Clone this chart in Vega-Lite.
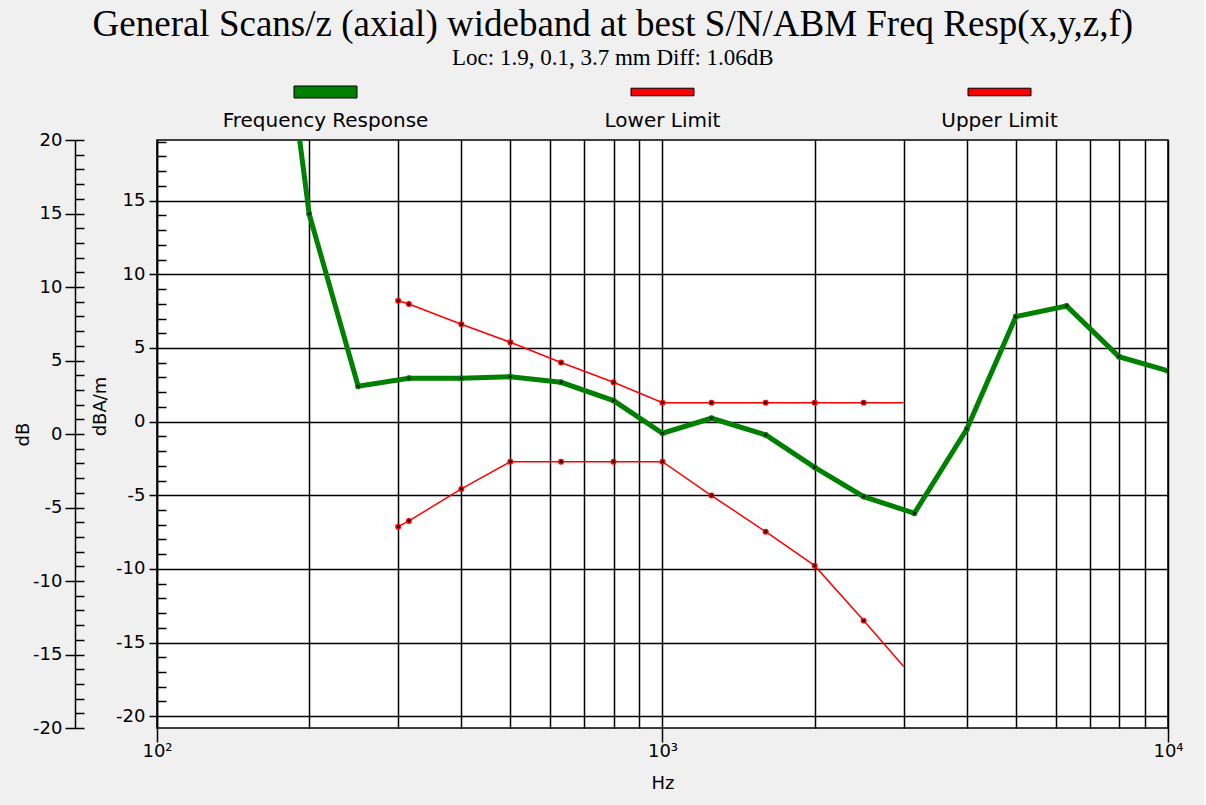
{
  "$schema": "https://vega.github.io/schema/vega-lite/v6.json",
  "background": "#f0f0f0",
  "padding": {"left": 13, "top": 6, "right": 20, "bottom": 14},
  "bounds": "flush",
  "spacing": 28,
  "title": {
    "text": "General Scans/z (axial) wideband at best S/N/ABM Freq Resp(x,y,z,f)",
    "subtitle": "Loc: 1.9, 0.1, 3.7 mm Diff: 1.06dB",
    "font": "Liberation Serif",
    "fontSize": 37,
    "fontWeight": "normal",
    "color": "black",
    "subtitleFont": "Liberation Serif",
    "subtitleFontSize": 23,
    "subtitleColor": "black",
    "subtitlePadding": 3,
    "anchor": "middle",
    "dx": 14,
    "offset": 1
  },
  "datasets": {
    "curves": [
      {"series": "Frequency Response", "f": 160, "v": 40},
      {"series": "Frequency Response", "f": 200, "v": 14.1},
      {"series": "Frequency Response", "f": 250, "v": 2.4},
      {"series": "Frequency Response", "f": 315, "v": 2.95},
      {"series": "Frequency Response", "f": 400, "v": 2.95},
      {"series": "Frequency Response", "f": 500, "v": 3.05},
      {"series": "Frequency Response", "f": 630, "v": 2.67},
      {"series": "Frequency Response", "f": 800, "v": 1.43},
      {"series": "Frequency Response", "f": 1000, "v": -0.79},
      {"series": "Frequency Response", "f": 1250, "v": 0.23},
      {"series": "Frequency Response", "f": 1600, "v": -0.9},
      {"series": "Frequency Response", "f": 2000, "v": -3.1},
      {"series": "Frequency Response", "f": 2500, "v": -5.09},
      {"series": "Frequency Response", "f": 3150, "v": -6.22},
      {"series": "Frequency Response", "f": 4000, "v": -0.5},
      {"series": "Frequency Response", "f": 5000, "v": 7.13},
      {"series": "Frequency Response", "f": 6300, "v": 7.85},
      {"series": "Frequency Response", "f": 8000, "v": 4.41},
      {"series": "Frequency Response", "f": 10000, "v": 3.44},
      {"series": "Upper Limit", "f": 300, "v": 8.21},
      {"series": "Upper Limit", "f": 315, "v": 7.99},
      {"series": "Upper Limit", "f": 400, "v": 6.61},
      {"series": "Upper Limit", "f": 500, "v": 5.39},
      {"series": "Upper Limit", "f": 630, "v": 4.01},
      {"series": "Upper Limit", "f": 800, "v": 2.67},
      {"series": "Upper Limit", "f": 1000, "v": 1.29},
      {"series": "Upper Limit", "f": 1250, "v": 1.29},
      {"series": "Upper Limit", "f": 1600, "v": 1.29},
      {"series": "Upper Limit", "f": 2000, "v": 1.29},
      {"series": "Upper Limit", "f": 2500, "v": 1.29},
      {"series": "Upper Limit", "f": 3000, "v": 1.29},
      {"series": "Lower Limit", "f": 300, "v": -7.13},
      {"series": "Lower Limit", "f": 315, "v": -6.74},
      {"series": "Lower Limit", "f": 400, "v": -4.57},
      {"series": "Lower Limit", "f": 500, "v": -2.72},
      {"series": "Lower Limit", "f": 630, "v": -2.72},
      {"series": "Lower Limit", "f": 800, "v": -2.72},
      {"series": "Lower Limit", "f": 1000, "v": -2.72},
      {"series": "Lower Limit", "f": 1250, "v": -5.02},
      {"series": "Lower Limit", "f": 1600, "v": -7.47},
      {"series": "Lower Limit", "f": 2000, "v": -9.78},
      {"series": "Lower Limit", "f": 2500, "v": -13.51},
      {"series": "Lower Limit", "f": 3000, "v": -16.63}
    ],
    "legend": [
      {"series": "Frequency Response"},
      {"series": "Lower Limit"},
      {"series": "Upper Limit"}
    ]
  },
  "vconcat": [
    {
      "width": 1011,
      "height": 40,
      "view": {"stroke": null, "fill": null},
      "data": {"name": "legend"},
      "encoding": {
        "x": {"field": "series", "type": "nominal", "scale": {"type": "point", "padding": 0.5, "domain": ["Frequency Response", "Lower Limit", "Upper Limit"]}, "axis": null}
      },
      "layer": [
        {
          "mark": {"type": "point", "filled": true, "size": 3969, "stroke": "black", "strokeWidth": 1, "opacity": 1},
          "encoding": {
            "fill": {"field": "series", "type": "nominal", "scale": {"domain": ["Frequency Response", "Lower Limit", "Upper Limit"], "range": ["#008000", "#ff0000", "#ff0000"]}, "legend": null},
            "shape": {"field": "series", "type": "nominal", "scale": {"domain": ["Frequency Response", "Lower Limit", "Upper Limit"], "range": ["M-1,-0.19H1V0.19H-1Z", "M-1,-0.12H1V0.12H-1Z", "M-1,-0.12H1V0.12H-1Z"]}, "legend": null}
          }
        },
        {
          "mark": {"type": "text", "dy": 29, "font": "DejaVu Sans", "fontSize": 20, "color": "black", "baseline": "middle"},
          "encoding": {"text": {"field": "series"}}
        }
      ]
    },
    {
      "width": 1011,
      "height": 588,
      "data": {"name": "curves"},
      "layer": [
        {
          "mark": {"type": "line", "clip": true},
          "encoding": {
            "x": {"field": "f", "type": "quantitative", "scale": {"type": "log", "domain": [100, 10000], "nice": false},
              "axis": {"orient": "bottom", "values": [100, 200, 300, 400, 500, 600, 700, 800, 900, 1000, 2000, 3000, 4000, 5000, 6000, 7000, 8000, 9000, 10000], "grid": true, "ticks": false, "labels": false, "domain": false, "title": null}},
            "y": {"field": "v", "type": "quantitative", "scale": {"domain": [-20.8, 19.12], "nice": false, "zero": false},
              "axis": {"orient": "left", "values": [-20, -15, -10, -5, 0, 5, 10, 15], "grid": true, "tickSize": 8, "labelPadding": 4, "labelExpr": "datum.value < 0 ? '-' + abs(datum.value) : '' + datum.value", "title": "dBA/m", "titleX": -48, "titleY": 266, "domain": true}},
            "color": {"field": "series", "type": "nominal", "scale": {"domain": ["Frequency Response", "Lower Limit", "Upper Limit"], "range": ["#008000", "#ff0000", "#ff0000"]}, "legend": null},
            "strokeWidth": {"field": "series", "type": "nominal", "scale": {"type": "ordinal", "domain": ["Frequency Response", "Lower Limit", "Upper Limit"], "range": [5, 1.5, 1.5]}, "legend": null}
          }
        },
        {
          "transform": [{"filter": "datum.f != 3000 && datum.v < 19"}],
          "mark": {"type": "point", "filled": true, "clip": true, "size": 20, "strokeWidth": 1.5, "opacity": 1, "fill": "black"},
          "encoding": {
            "x": {"field": "f", "type": "quantitative", "axis": null},
            "y": {"field": "v", "type": "quantitative", "scale": {"domain": [-20.8, 19.12], "nice": false, "zero": false}, "axis": null},
            "stroke": {"field": "series", "type": "nominal", "scale": {"domain": ["Frequency Response", "Lower Limit", "Upper Limit"], "range": ["#008000", "#ff0000", "#ff0000"]}, "legend": null}
          }
        },
        {
          "mark": {"type": "point", "opacity": 0, "clip": true},
          "encoding": {
            "y": {"field": "v", "type": "quantitative", "scale": {"domain": [-20.8, 19.12], "nice": false, "zero": false},
              "axis": {"orient": "left", "values": [-19, -18, -17, -16, -14, -13, -12, -11, -9, -8, -7, -6, -4, -3, -2, -1, 1, 2, 3, 4, 6, 7, 8, 9, 11, 12, 13, 14, 16, 17, 18, 19], "tickSize": -9, "labels": false, "domain": false, "grid": false, "title": null}}
          }
        },
        {
          "mark": {"type": "point", "opacity": 0, "clip": true},
          "encoding": {
            "x": {"field": "f", "type": "quantitative",
              "axis": {"orient": "bottom", "values": [100, 1000, 10000], "grid": false, "tickSize": 14, "labelExpr": "datum.value == 100 ? '10²' : datum.value == 1000 ? '10³' : '10⁴'", "labelFlush": false, "labelOverlap": false, "labelPadding": 0, "title": "Hz", "titlePadding": 14, "domain": false}},
            "y": {"field": "v", "type": "quantitative", "scale": {"domain": [-20, 20], "nice": false, "zero": false},
              "axis": {"orient": "left", "offset": 82, "values": [-20, -15, -10, -5, 0, 5, 10, 15, 20], "tickSize": 10, "labelPadding": 3, "labelExpr": "datum.value < 0 ? '-' + abs(datum.value) : '' + datum.value", "title": "dB", "titlePadding": 0, "grid": false, "domain": true}}
          }
        },
        {
          "mark": {"type": "point", "opacity": 0, "clip": true},
          "encoding": {
            "y": {"field": "v", "type": "quantitative", "scale": {"domain": [-20, 20], "nice": false, "zero": false},
              "axis": {"orient": "left", "offset": 82, "values": [-20, -19, -18, -17, -16, -15, -14, -13, -12, -11, -10, -9, -8, -7, -6, -5, -4, -3, -2, -1, 0, 1, 2, 3, 4, 5, 6, 7, 8, 9, 10, 11, 12, 13, 14, 15, 16, 17, 18, 19, 20], "tickSize": -9, "labels": false, "domain": false, "grid": false, "title": null}}
          }
        }
      ],
      "resolve": {"scale": {"y": "independent"}, "axis": {"x": "independent"}}
    }
  ],
  "config": {
    "view": {"fill": "white", "stroke": "black", "strokeWidth": 1.5},
    "axis": {
      "labelFont": "DejaVu Sans",
      "labelFontSize": 18,
      "labelColor": "black",
      "titleFont": "DejaVu Sans",
      "titleFontSize": 18,
      "titleFontWeight": "normal",
      "titleColor": "black",
      "tickColor": "black",
      "tickWidth": 1.5,
      "domainColor": "black",
      "domainWidth": 1.5,
      "gridColor": "black",
      "gridWidth": 1.5,
      "gridOpacity": 1
    }
  }
}
